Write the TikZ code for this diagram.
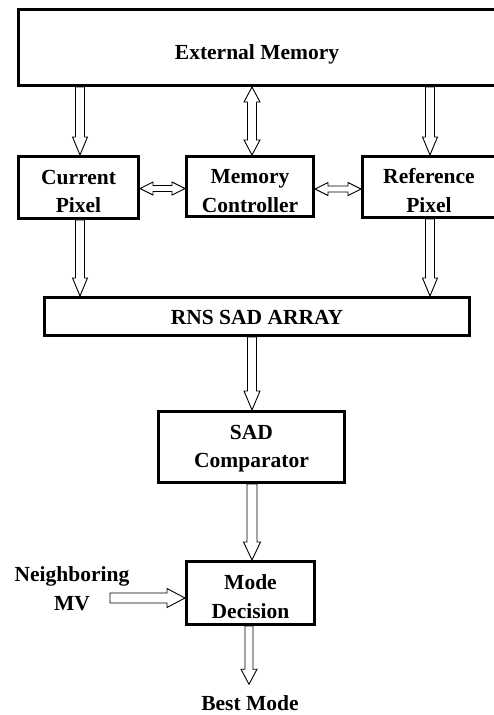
\documentclass[tikz,border=0pt]{standalone}
\usepackage{fontspec}
\setmainfont{Liberation Serif}
\usetikzlibrary{calc}

\tikzset{
  labelfont/.style={font=\bfseries\fontsize{21.5}{28.5}\selectfont},
  % block with its caption; #1 lowers the caption, #2 is the caption
  unit/.style 2 args={draw, line width=2.7pt, inner sep=0pt,
    label={[labelfont, align=center, inner sep=0pt, yshift=-#1]center:{#2}}},
  plain/.style={labelfont, align=center, inner sep=0pt},
  % hollow block arrow: shaft half width, head half width, head length
  barrow/.style n args={3}{line width=0.9pt, to path={
    ($(\tikztotarget)!#3!(\tikztostart)$) coordinate (bhA)
    ($(\tikztostart)!#1!90:(\tikztotarget)$)
    -- ($(bhA)!#1!90:(\tikztotarget)$)
    -- ($(bhA)!#2!90:(\tikztotarget)$)
    -- (\tikztotarget)
    -- ($(bhA)!#2!-90:(\tikztotarget)$)
    -- ($(bhA)!#1!-90:(\tikztotarget)$)
    -- ($(\tikztostart)!#1!-90:(\tikztotarget)$)
    -- cycle}},
  % hollow block arrow with a head at both ends
  dbarrow/.style n args={3}{line width=0.9pt, to path={
    ($(\tikztostart)!#3!(\tikztotarget)$) coordinate (bhS)
    ($(\tikztotarget)!#3!(\tikztostart)$) coordinate (bhT)
    (\tikztostart)
    -- ($(bhS)!#2!90:(\tikztotarget)$)
    -- ($(bhS)!#1!90:(\tikztotarget)$)
    -- ($(bhT)!#1!90:(\tikztotarget)$)
    -- ($(bhT)!#2!90:(\tikztotarget)$)
    -- (\tikztotarget)
    -- ($(bhT)!#2!-90:(\tikztotarget)$)
    -- ($(bhT)!#1!-90:(\tikztotarget)$)
    -- ($(bhS)!#1!-90:(\tikztotarget)$)
    -- ($(bhS)!#2!-90:(\tikztotarget)$)
    -- cycle}}
}

\begin{document}
\begin{tikzpicture}[x=1pt, y=-1pt]
\useasboundingbox (0,0) rectangle (494,715);
\clip (0,0) rectangle (494,715);

% blocks
\node[unit={6.5pt}{External Memory}, minimum width=477.3pt, minimum height=76.3pt] (em) at (257,47.5) {};
\node[unit={4.2pt}{Current\\Pixel}, minimum width=120.3pt, minimum height=62.3pt] (cp) at (78.5,187.5) {};
\node[unit={4.7pt}{Memory\\Controller}, minimum width=127.3pt, minimum height=60.3pt] (mc) at (250,186.5) {};
\node[unit={3.3pt}{Reference\\Pixel}, minimum width=133.3pt, minimum height=61.3pt] (rp) at (429,187) {};
\node[unit={1.3pt}{RNS SAD ARRAY}, minimum width=425.3pt, minimum height=38.3pt] (rns) at (257,316.5) {};
\node[unit={1.7pt}{SAD\\Comparator}, minimum width=186.3pt, minimum height=71.3pt] (sad) at (251.5,447) {};
\node[unit={3.7pt}{Mode\\Decision}, minimum width=128.3pt, minimum height=63.3pt] (md) at (250.5,593) {};

% free texts
\node[plain] (nmv) at (72,588.7) {Neighboring\\MV};
\node[plain] (bm) at (250,703) {Best Mode};

\coordinate (nmvtail) at (110,598);
\coordinate (bmin) at ([xshift=-1pt,yshift=11pt]bm.north);

% memory side
\draw[barrow={4.5pt}{7.5pt}{18pt}] ([xshift=1.5pt]cp.north |- em.south) to ([xshift=1.5pt]cp.north);
\draw[dbarrow={4.5pt}{8pt}{15pt}] ([xshift=2pt]mc.north |- em.south) to ([xshift=2pt]mc.north);
\draw[barrow={4.5pt}{7.5pt}{18pt}] ([xshift=1pt]rp.north |- em.south) to ([xshift=1pt]rp.north);
\draw[dbarrow={3pt}{6.5pt}{13pt}] ([yshift=-1pt]cp.east) to ([yshift=-1pt]cp.east -| mc.west);
\draw[dbarrow={3pt}{6.5pt}{13pt}] ([yshift=-2.5pt]mc.east) to ([yshift=-2.5pt]mc.east -| rp.west);

% datapath
\draw[barrow={4.5pt}{7.5pt}{18pt}] ([xshift=1.5pt]cp.south) to ([xshift=1.5pt]cp.south |- rns.north);
\draw[barrow={4.5pt}{7.5pt}{18pt}] ([xshift=1pt]rp.south) to ([xshift=1pt]rp.south |- rns.north);
\draw[barrow={4.5pt}{8pt}{19pt}] ([xshift=0.5pt]sad.north |- rns.south) to ([xshift=0.5pt]sad.north);
\draw[barrow={5pt}{8.5pt}{18pt}] ([xshift=1.5pt]md.north |- sad.south) to ([xshift=1.5pt]md.north);
\draw[barrow={5pt}{9.5pt}{18pt}] (nmvtail) to (nmvtail -| md.west);
\draw[barrow={4pt}{8pt}{15pt}] (md.south -| bmin) to (bmin);
\end{tikzpicture}
\end{document}
